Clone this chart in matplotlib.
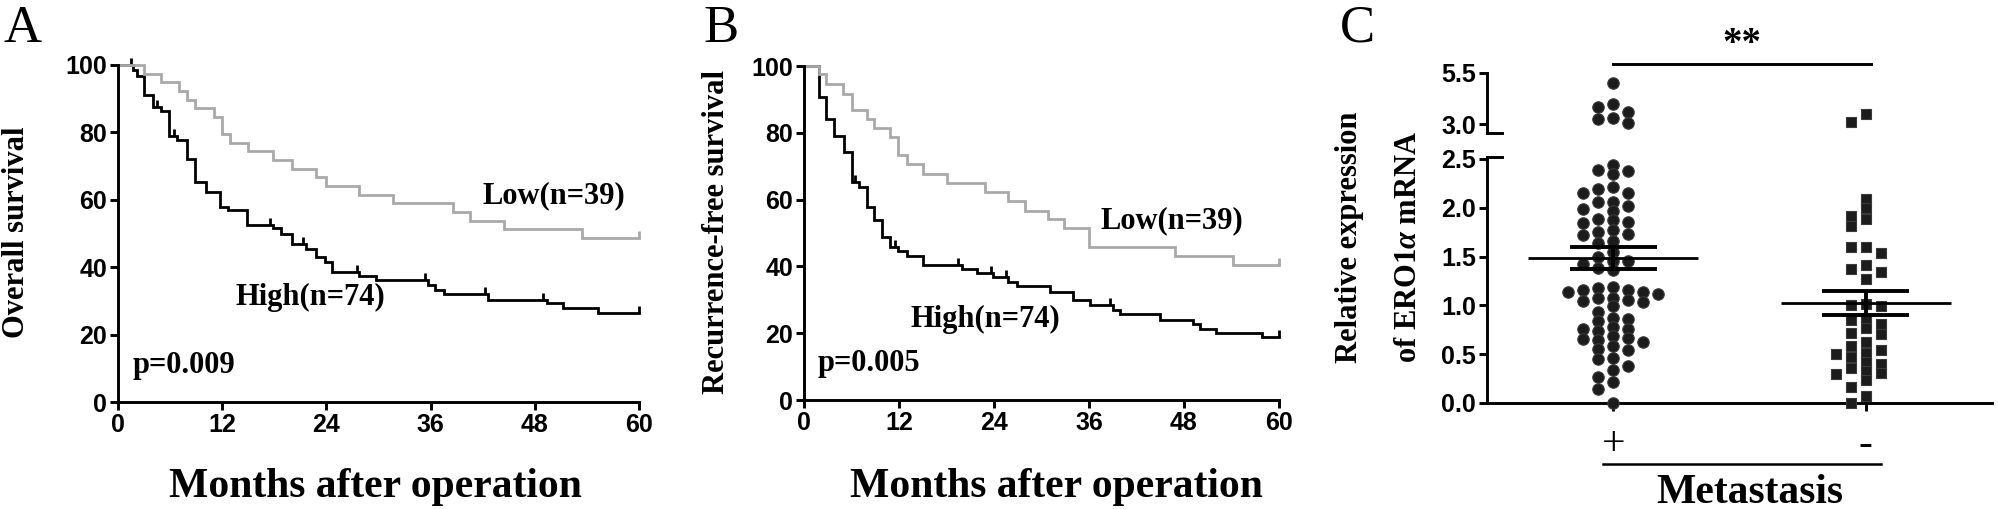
import matplotlib
matplotlib.use('Agg')
import matplotlib.pyplot as plt
import numpy as np
from matplotlib.path import Path
from matplotlib.markers import MarkerStyle

# ---- Panel A : overall survival (months, %)
os_high_t = [0, 1.7, 2.2, 3.0, 4.0, 4.9, 5.9, 6.8, 8.0, 8.9, 10.1, 11.8, 12.7, 14.8, 17.9,
             18.8, 20.0, 21.7, 22.8, 23.8, 24.7, 27.8, 29.7, 35.7, 36.5, 37.6, 42.6, 49.4,
             51.3, 55.3, 60]
os_high_s = [100, 98.6, 96.7, 91.1, 87.6, 86.3, 79.0, 77.7, 72.0, 65.3, 62.4, 58.0, 57.0, 52.5,
             51.5, 50.0, 47.0, 45.5, 43.0, 41.5, 38.7, 37.5, 36.2, 34.7, 33.3, 32.0, 30.4,
             29.5, 27.8, 26.5, 26.5]
os_low_t = [0, 3.0, 4.9, 7.0, 8.0, 8.9, 11.0, 12.0, 12.9, 15.0, 17.9, 20.0, 22.8, 24.0, 27.8,
            31.7, 38.6, 40.5, 44.5, 53.4, 60]
os_low_s = [100, 97.4, 94.9, 92.3, 89.7, 87.2, 84.6, 79.5, 76.9, 74.4, 71.8, 69.2, 66.7, 64.1,
            61.5, 59.0, 56.4, 53.8, 51.3, 48.7, 48.7]
os_high_cens = [1.5, 4.5, 6.4, 17.5, 21.3, 27.5, 35.3, 42.3, 49.0, 60]
os_low_cens = [60]

# ---- Panel B : recurrence-free survival
rfs_high_t = [0, 1.9, 2.8, 3.8, 5.0, 6.0, 6.9, 7.9, 8.8, 9.9, 10.9, 11.9, 13.0, 15.0, 19.9,
              21.8, 23.9, 25.8, 26.9, 31.1, 34.0, 36.1, 39.0, 39.9, 45.0, 49.1, 50.0, 52.0,
              57.9, 60]
rfs_high_s = [100, 90.7, 84.2, 79.0, 74.3, 65.3, 63.8, 57.8, 53.8, 48.7, 45.9, 44.7, 43.1, 40.4,
              39.1, 37.9, 36.9, 35.4, 34.1, 32.4, 29.9, 28.4, 26.9, 25.7, 24.1, 22.7, 21.4,
              20.1, 18.8, 18.8]
rfs_low_t = [0, 1.9, 2.8, 4.9, 6.0, 7.9, 8.8, 10.9, 11.9, 13.0, 15.0, 18.0, 22.9, 25.8, 27.9,
             30.8, 32.8, 36.0, 46.8, 54.2, 60]
rfs_low_s = [100, 97.7, 94.7, 91.7, 86.7, 84.2, 81.3, 78.8, 73.3, 70.6, 67.8, 65.0, 62.3, 59.5,
             56.6, 54.1, 51.4, 45.9, 43.1, 40.4, 40.4]
rfs_high_cens = [6.5, 11.5, 19.5, 23.6, 25.5, 38.7, 60]
rfs_low_cens = [60]

# ---- Panel C : relative expression of ERO1a mRNA
met_pos = [4.99, 3.98, 3.81, 3.57, 3.28, 3.24, 3.03,
           2.44, 2.39, 2.38, 2.35, 2.21, 2.19, 2.15, 2.15, 2.06, 2.06,
           2.02, 1.99, 1.97, 1.89, 1.85, 1.87, 1.84, 1.77, 1.73, 1.72,
           1.75, 1.66, 1.64, 1.55, 1.50, 1.45, 1.45, 1.42, 1.38, 1.36,
           1.19, 1.16, 1.14, 1.12, 1.14, 1.16, 1.18, 1.08, 1.05, 1.03,
           1.06, 1.08, 0.99, 0.93, 0.87, 0.84, 0.86, 0.76, 0.74, 0.76,
           0.78, 0.69, 0.66, 0.63, 0.65, 0.67, 0.55, 0.54, 0.58, 0.46,
           0.45, 0.38, 0.34, 0.27, 0.22, 0.14, 0.0]
met_neg = [3.49, 3.08,
           2.09, 2.00, 1.92, 1.89, 1.81, 1.60, 1.60, 1.54, 1.37, 1.41, 1.34, 1.27,
           0.99, 1.00, 1.01, 0.85, 0.87, 0.81, 0.77, 0.71, 0.72,
           0.62, 0.54, 0.58, 0.50, 0.47, 0.51, 0.42, 0.33, 0.36, 0.40, 0.31, 0.30,
           0.24, 0.16, 0.07, 0.0]
groups = ['+', '-']

plt.rcParams['mathtext.fontset'] = 'custom'
plt.rcParams['mathtext.rm'] = 'Liberation Serif:bold'
plt.rcParams['mathtext.bf'] = 'Liberation Serif:bold'
plt.rcParams['mathtext.it'] = 'Liberation Serif:italic:bold'

W, H = 1998, 509
SERIF = 'Liberation Serif'
SANS = ['Liberation Sans Narrow', 'Liberation Sans']
GRAY = '#a9a9a9'


def box(x0, x1, ytop, ybot):
    return [x0 / W, 1 - ybot / H, (x1 - x0) / W, (ybot - ytop) / H]


def style_axis(ax):
    for s in ['top', 'right']:
        ax.spines[s].set_visible(False)
    for s in ['left', 'bottom']:
        ax.spines[s].set_linewidth(2.1)
    ax.tick_params(direction='out', length=6, width=2.1, labelsize=18, pad=2)
    for lab in ax.get_xticklabels() + ax.get_yticklabels():
        lab.set_fontfamily(SANS)
        lab.set_fontweight('bold')


tick_marker = MarkerStyle(Path([[0, 0], [0, 1]]))


def km(ax, t, s, cens, color):
    ax.step(t, s, where='post', color=color, lw=2.0, clip_on=False, solid_joinstyle='miter')
    idx = np.searchsorted(t, cens, side='right') - 1
    ax.plot(cens, np.array(s)[idx], ls='none', marker=tick_marker, ms=10, mew=2.0,
            color=color, clip_on=False)


fig = plt.figure(figsize=(W / 100, H / 100), dpi=100)

panels = [
    (box(118, 639, 65, 402), os_high_t, os_high_s, os_high_cens, os_low_t, os_low_s,
     os_low_cens, 'Overall survival', 'p=0.009', (42.0, 59.0), (13.5, 28.8), 17, 0.1877),
    (box(804, 1279, 66, 400), rfs_high_t, rfs_high_s, rfs_high_cens, rfs_low_t, rfs_low_s,
     rfs_low_cens, 'Recurrence-free survival', 'p=0.005', (37.4, 51.4), (13.5, 21.9), 717, 0.5285),
]
for (pos, ht, hs, hc, lt, ls_, lc, ylab, ptxt, low_xy, high_xy, ylab_x, xlab_x) in panels:
    ax = fig.add_axes(pos)
    km(ax, ht, hs, hc, 'black')
    km(ax, lt, ls_, lc, GRAY)
    ax.set_xlim(0, 60)
    ax.set_ylim(0, 100)
    ax.set_xticks([0, 12, 24, 36, 48, 60])
    ax.set_yticks([0, 20, 40, 60, 80, 100])
    style_axis(ax)
    ax.text(*low_xy, 'Low(n=39)', family=SERIF, weight='bold', fontsize=22)
    ax.text(*high_xy, 'High(n=74)', family=SERIF, weight='bold', fontsize=22)
    ax.text(1.7, 8.7, ptxt, family=SERIF, weight='bold', fontsize=22)
    fig.text(ylab_x / W, 1 - 232 / H, ylab, rotation=90, ha='center', va='center',
             family=SERIF, weight='bold', fontsize=22)
    fig.text(xlab_x, 1 - 497 / H, 'Months after operation', ha='center', va='baseline',
             family=SERIF, weight='bold', fontsize=30)

# ---- Panel C, broken y axis
axl = fig.add_axes(box(1487, 1992, 157, 403))
axu = fig.add_axes(box(1487, 1992, 73, 133))
axl.set_xlim(-0.5, 1.5)
axu.set_xlim(-0.5, 1.5)
axl.set_ylim(0, 2.52)
axu.set_ylim(2.56, 5.5)
axl.set_yticks([0, 0.5, 1.0, 1.5, 2.0, 2.5])
axl.set_yticklabels(['0.0', '0.5', '1.0', '1.5', '2.0', '2.5'])
axu.set_yticks([3.0, 5.5])
axu.set_yticklabels(['3.0', '5.5'])
axl.set_xticks([0, 1])
axl.set_xticklabels(groups)
style_axis(axl)
style_axis(axu)
axu.spines['bottom'].set_visible(False)
axu.set_xticks([])
axl.tick_params(axis='x', length=6, pad=10, labelsize=30)
for lab in axl.get_xticklabels():
    lab.set_fontfamily(SERIF)
    lab.set_fontweight('normal')
for ax in (axl, axu):
    ax.patch.set_alpha(0)

# break marks
axu.plot([0, 0.03], [0, 0], transform=axu.transAxes, color='black', lw=2.1, clip_on=False)
axl.plot([0, 0.03], [1, 1], transform=axl.transAxes, color='black', lw=2.1, clip_on=False)


def swarm(ax, center, vals, step=15.0, diam=8.5):
    vals = np.asarray(vals, dtype=float)
    pts = ax.transData.transform(np.column_stack([np.full(len(vals), center), vals]))
    order = np.argsort(-pts[:, 1])
    placed = []
    xs = np.zeros(len(vals))
    for i in order:
        for k in [0, -1, 1, -2, 2, -3, 3, -4, 4, -5, 5, -6, 6]:
            x = pts[i, 0] + k * step
            if all((x - px) ** 2 + (pts[i, 1] - py) ** 2 >= diam ** 2 for px, py in placed):
                break
        placed.append((x, pts[i, 1]))
        xs[i] = x
    return ax.transData.inverted().transform(np.column_stack([xs, pts[:, 1]]))[:, 0]


for g, (vals, mk, sz) in enumerate([(met_pos, 'o', 68), (met_neg, 's', 50)]):
    vals = np.asarray(vals)
    for ax, sel in ((axu, vals > 2.7), (axl, vals <= 2.7)):
        v = vals[sel]
        x = swarm(ax, g, v)
        ax.scatter(x, v, marker=mk, s=sz, color='#1c1c1c', edgecolors='#3a3a3a',
                   linewidths=0.8, clip_on=False, zorder=3)
    m = vals.mean()
    sem = vals.std(ddof=1) / np.sqrt(len(vals))
    axl.hlines(m, g - 0.336, g + 0.336, color='black', lw=2.0, zorder=4)
    axl.hlines([m - sem, m + sem], g - 0.172, g + 0.172, color='black', lw=2.8, zorder=4)
    axl.vlines(g, m - sem, m + sem, color='black', lw=2.8, zorder=4)

# significance bar
axu.plot([0, 1.02], [5.94, 5.94], color='black', lw=2.1, clip_on=False)
axu.text(0.51, 5.98, '**', ha='center', va='bottom', family=SERIF, weight='bold',
         fontsize=28, clip_on=False)

# group line + Metastasis
axl.plot([-0.04, 1.06], [-0.248, -0.248], transform=axl.get_xaxis_transform(),
         color='black', lw=1.8, clip_on=False)
axl.text(0.54, -0.29, 'Metastasis', transform=axl.get_xaxis_transform(), ha='center',
         va='top', family=SERIF, weight='bold', fontsize=30)

fig.text(1349 / W, 1 - 363 / H, 'Relative expression', rotation=90, ha='center',
         va='bottom', family=SERIF, weight='bold', fontsize=22)
fig.text(1408 / W, 1 - 363 / H, 'of ERO1$\\alpha$ mRNA', rotation=90, ha='center',
         va='bottom', family=SERIF, weight='bold', fontsize=22)

# panel letters
for letter, x in [('A', 4), ('B', 703), ('C', 1340)]:
    fig.text(x / W, 1 - 42 / H, letter, ha='left', va='baseline', family=SERIF,
             fontsize=38)

fig.savefig('out.png', dpi=100)
